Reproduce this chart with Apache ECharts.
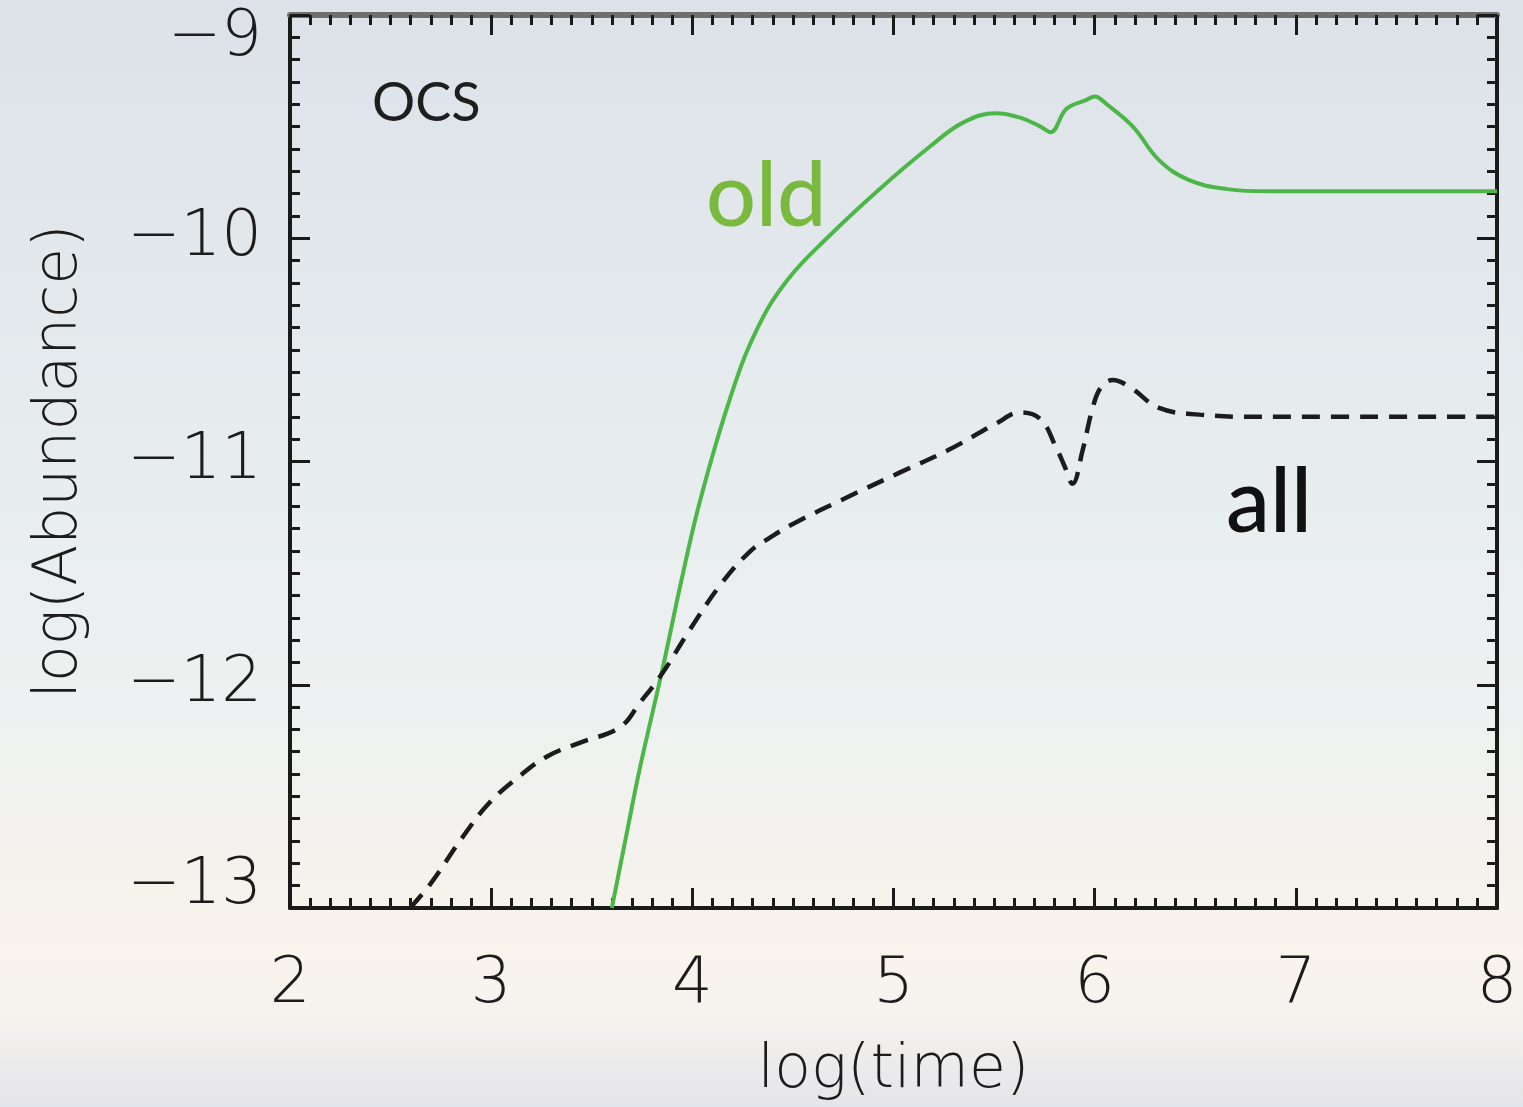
<!DOCTYPE html>
<html>
<head>
<meta charset="utf-8">
<script src="https://cdn.jsdelivr.net/npm/echarts@6/dist/echarts.min.js"></script>
<style>
  html, body { margin: 0; padding: 0; }
  #chart { width: 1523px; height: 1107px; }
</style>
</head>
<body>
<div id="chart"></div>
<script>
// Axis ranges (tick values)
const timeTicks = [2, 3, 4, 5, 6, 7, 8];
const abundTicks = [-13, -12, -11, -10, -9];

// OCS abundance, "old" network (solid green)
const oldLogTime  = [3.60, 3.675, 3.74, 3.854, 3.944, 4.04, 4.19, 4.32, 4.47, 4.68, 4.93, 5.18, 5.35, 5.51, 5.63, 5.73, 5.78, 5.86, 5.96, 6.00, 6.06, 6.19, 6.32, 6.47, 6.66, 6.86, 8.00];
const oldLogAbund = [-13.0, -12.66, -12.37, -11.92, -11.54, -11.17, -10.71, -10.41, -10.19, -9.99, -9.78, -9.59, -9.48, -9.44, -9.46, -9.50, -9.525, -9.42, -9.38, -9.365, -9.40, -9.50, -9.65, -9.74, -9.78, -9.79, -9.79];

// OCS abundance, "all" network (dashed black)
const allLogTime  = [2.597, 2.70, 2.86, 2.99, 3.14, 3.28, 3.44, 3.64, 3.74, 3.85, 3.99, 4.15, 4.29, 4.37, 4.50, 4.77, 5.03, 5.27, 5.51, 5.63, 5.73, 5.81, 5.85, 5.89, 5.94, 5.99, 6.03, 6.09, 6.18, 6.32, 6.52, 6.82, 8.00];
const allLogAbund = [-13.0, -12.89, -12.68, -12.53, -12.41, -12.32, -12.26, -12.19, -12.08, -11.95, -11.75, -11.54, -11.40, -11.35, -11.28, -11.16, -11.05, -10.95, -10.83, -10.78, -10.81, -10.94, -11.02, -11.10, -10.95, -10.76, -10.67, -10.635, -10.67, -10.76, -10.79, -10.80, -10.80];

const pairs = (xs, ys) => xs.map((x, i) => [x, ys[i]]);

const xMin = timeTicks[0], xMax = timeTicks[timeTicks.length - 1];
const yMin = abundTicks[0], yMax = abundTicks[abundTicks.length - 1];

const thinFont = 'DejaVu Sans';
const ink = '#1a1a1a';

const tickBase = {
  show: true, inside: true, length: 20,
  lineStyle: { color: ink, width: 3 }
};
const minorBase = {
  show: true, splitNumber: 10, length: 10,
  lineStyle: { color: ink, width: 3 }
};

const labelStyle = {
  fontFamily: thinFont, fontWeight: 200, fontSize: 64, color: '#1c1c1c'
};

const chart = echarts.init(document.getElementById('chart'), null, { renderer: 'canvas' });

chart.setOption({
  backgroundColor: {
    type: 'linear', x: 0, y: 0, x2: 0, y2: 1,
    colorStops: [
      { offset: 0.00, color: '#dce2e8' },
      { offset: 0.20, color: '#e1e7eb' },
      { offset: 0.45, color: '#e8edef' },
      { offset: 0.65, color: '#eef1f0' },
      { offset: 0.78, color: '#f4f2ed' },
      { offset: 0.86, color: '#f9f4ec' },
      { offset: 0.92, color: '#f5f2ee' },
      { offset: 1.00, color: '#e4e5ea' }
    ]
  },
  animation: false,
  grid: { left: 290, right: 26, top: 15, bottom: 199, containLabel: false },
  xAxis: [
    {
      type: 'value', position: 'bottom', min: xMin, max: xMax, interval: 1,
      name: 'log(time)', nameLocation: 'middle', nameGap: 133,
      nameTextStyle: { fontFamily: thinFont, fontWeight: 200, fontSize: 60, color: '#1c1c1c' },
      axisLine: { show: true, lineStyle: { color: ink, width: 4 } },
      axisTick: tickBase,
      minorTick: minorBase,
      splitLine: { show: false },
      axisLabel: Object.assign({ margin: 45 }, labelStyle)
    },
    {
      type: 'value', position: 'top', min: xMin, max: xMax, interval: 1,
      axisLine: { show: true, lineStyle: { color: '#6f6f6f', width: 6 } },
      axisTick: tickBase,
      minorTick: minorBase,
      splitLine: { show: false },
      axisLabel: { show: false }
    }
  ],
  yAxis: [
    {
      type: 'value', position: 'left', min: yMin, max: yMax, interval: 1,
      name: 'log(Abundance)', nameLocation: 'middle', nameGap: 200, nameRotate: 90,
      nameTextStyle: { fontFamily: thinFont, fontWeight: 200, fontSize: 60, color: '#1c1c1c' },
      axisLine: { show: true, lineStyle: { color: ink, width: 4 } },
      axisTick: tickBase,
      minorTick: minorBase,
      splitLine: { show: false },
      axisLabel: Object.assign({
        margin: 28,
        formatter: v => {
          const t = (v < 0 ? '\u2212' : '') + Math.abs(v);
          if (v === yMax) return '{hi|' + t + '}';
          if (v === yMin) return '{lo|' + t + '}';
          return t;
        },
        rich: {
          hi: Object.assign({ padding: [46, 0, 0, 0] }, labelStyle),
          lo: Object.assign({ padding: [0, 0, 44, 0] }, labelStyle)
        }
      }, labelStyle)
    },
    {
      type: 'value', position: 'right', min: yMin, max: yMax, interval: 1,
      axisLine: { show: true, lineStyle: { color: ink, width: 4 } },
      axisTick: tickBase,
      minorTick: minorBase,
      splitLine: { show: false },
      axisLabel: { show: false }
    }
  ],
  series: [
    {
      name: 'old', type: 'line', xAxisIndex: 0, yAxisIndex: 0,
      data: pairs(oldLogTime, oldLogAbund),
      showSymbol: false, smooth: 0.4,
      lineStyle: { color: '#4cb648', width: 4 },
      z: 3
    },
    {
      name: 'all', type: 'line', xAxisIndex: 0, yAxisIndex: 0,
      data: pairs(allLogTime, allLogAbund),
      showSymbol: false, smooth: 0.4,
      lineStyle: { color: '#1c1c1c', width: 4.5, type: [18, 11] },
      z: 3
    }
  ],
  graphic: [
    {
      type: 'text', left: 372, top: 77, z: 10,
      style: { text: 'OCS', font: '400 54px Lato', fill: '#1e1e1e' }
    },
    {
      type: 'text', left: 706, top: 154, z: 10,
      style: { text: 'old', font: '500 88px Lato', fill: '#79b93e' }
    },
    {
      type: 'text', left: 1226, top: 460, z: 10,
      style: { text: 'all', font: '500 88px Lato', fill: '#111111' }
    }
  ]
});
</script>
</body>
</html>
